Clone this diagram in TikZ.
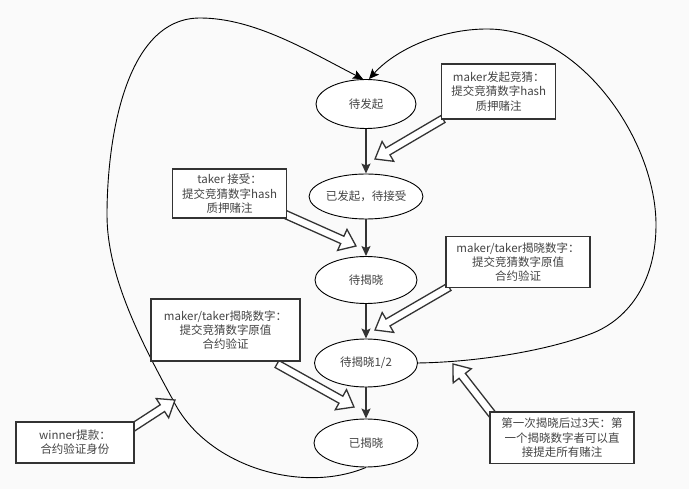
\documentclass[tikz,border=0pt]{standalone}
\usepackage{fontspec}
\setmainfont{Noto Sans CJK SC}
\usetikzlibrary{shapes.geometric,arrows.meta,calc}
\definecolor{bg}{RGB}{250,250,250}
\definecolor{ink}{RGB}{51,51,51}
\definecolor{txt}{RGB}{68,68,68}
\newcommand\hollowarrow[2]{%
  \coordinate (ha-m) at ($(#2)!15pt!(#1)$);
  \draw[hollow] ($(#1)!4pt!90:(#2)$) -- ($(ha-m)!4pt!90:(#2)$) -- ($(ha-m)!11.5pt!90:(#2)$) -- (#2)
    -- ($(ha-m)!11.5pt!-90:(#2)$) -- ($(ha-m)!4pt!-90:(#2)$) -- ($(#1)!4pt!-90:(#2)$) -- cycle;}
\begin{document}
\begin{tikzpicture}[x=1pt,y=-1pt,
  state/.style={ellipse, draw=black, line width=0.9pt, fill=white, inner sep=0pt,
    font=\fontsize{11.5}{14}\selectfont, text=txt},
  note/.style={rectangle, draw=ink, line width=1.4pt, fill=white, inner sep=0pt, align=center,
    font=\fontsize{11.5}{14.2}\selectfont, text=txt},
  flow/.style={draw=ink, line width=1.2pt, -{Stealth[length=10pt,width=9pt,inset=2pt]}},
  loopline/.style={draw=black, line width=0.9pt, -{Stealth[length=10pt,width=9pt,inset=2pt]}},
  hollow/.style={draw=ink, line width=1.3pt, fill=white, line join=miter}]
\fill[bg] (0,0) rectangle (689,489);
\useasboundingbox (0,0) rectangle (689,489);

% states
\node[state, minimum width=100pt, minimum height=49pt] (s1) at (366,104) {待发起};
\node[state, minimum width=104pt, minimum height=45pt] (s2) at (366,196.5) {已发起，待接受};
\node[state, minimum width=102pt, minimum height=47pt] (s3) at (366,280) {待揭晓};
\node[state, minimum width=103pt, minimum height=48pt] (s4) at (366,363) {待揭晓1/2};
\node[state, minimum width=104pt, minimum height=48pt] (s5) at (366,443) {已揭晓};

\draw[flow] (s1) -- (s2);
\draw[flow] (s2) -- (s3);
\draw[flow] (s3) -- (s4);
\draw[flow] (s4) -- (s5);

% loop curves
\coordinate (c1) at ([xshift=-3pt]s1.north);
\coordinate (c2) at ([xshift=3pt]s1.north);
\draw[loopline] (s5.south) .. controls (300,495) and (205,465) .. (173,400)
  .. controls (140,340) and (107,275) .. (107,215)
  .. controls (107,140) and (125,18) .. (200,18)
  .. controls (255,18) and (310,52) .. (c1);
\draw[loopline] (s4.east) .. controls (480,362) and (550,350) .. (593,333)
  .. controls (630,318) and (656,280) .. (656,225)
  .. controls (656,140) and (580,29) .. (487,29)
  .. controls (440,29) and (395,50) .. (c2);

% hollow arrows
\coordinate (t1) at (443,119); \coordinate (h1) at (375,159);
\coordinate (t2) at (282,213); \coordinate (h2) at (356,246);
\coordinate (t3) at (277,364); \coordinate (h3) at (354,407);
\coordinate (t4) at (449,287); \coordinate (h4) at (375,330);
\coordinate (t5) at (492,414); \coordinate (h5) at (453,364);
\coordinate (t6) at (118,437); \coordinate (h6) at (175,400);
\hollowarrow{t1}{h1}
\hollowarrow{t2}{h2}
\hollowarrow{t3}{h3}
\hollowarrow{t4}{h4}
\hollowarrow{t5}{h5}
\hollowarrow{t6}{h6}

% notes
\node[note, minimum width=114pt, minimum height=55pt] (n1) at (498.7,91.5) {maker发起竞猜：\\提交竞猜数字hash\\质押赌注};
\node[note, minimum width=114pt, minimum height=49pt] (n2) at (229.6,193.7) {taker 接受：\\提交竞猜数字hash\\质押赌注};
\node[note, minimum width=149pt, minimum height=62pt] (n3) at (225.5,330) {maker/taker揭晓数字：\\提交竞猜数字原值\\合约验证};
\node[note, minimum width=144pt, minimum height=51pt] (n4) at (518,262) {maker/taker揭晓数字：\\提交竞猜数字原值\\合约验证};
\node[note, minimum width=144pt, minimum height=51pt] (n5) at (562,437.7) {第一次揭晓后过3天：第\\一个揭晓数字者可以直\\接提走所有赌注};
\node[note, minimum width=118pt, minimum height=41pt] (n6) at (75,442.5) {winner提款：\\合约验证身份};
\end{tikzpicture}
\end{document}
